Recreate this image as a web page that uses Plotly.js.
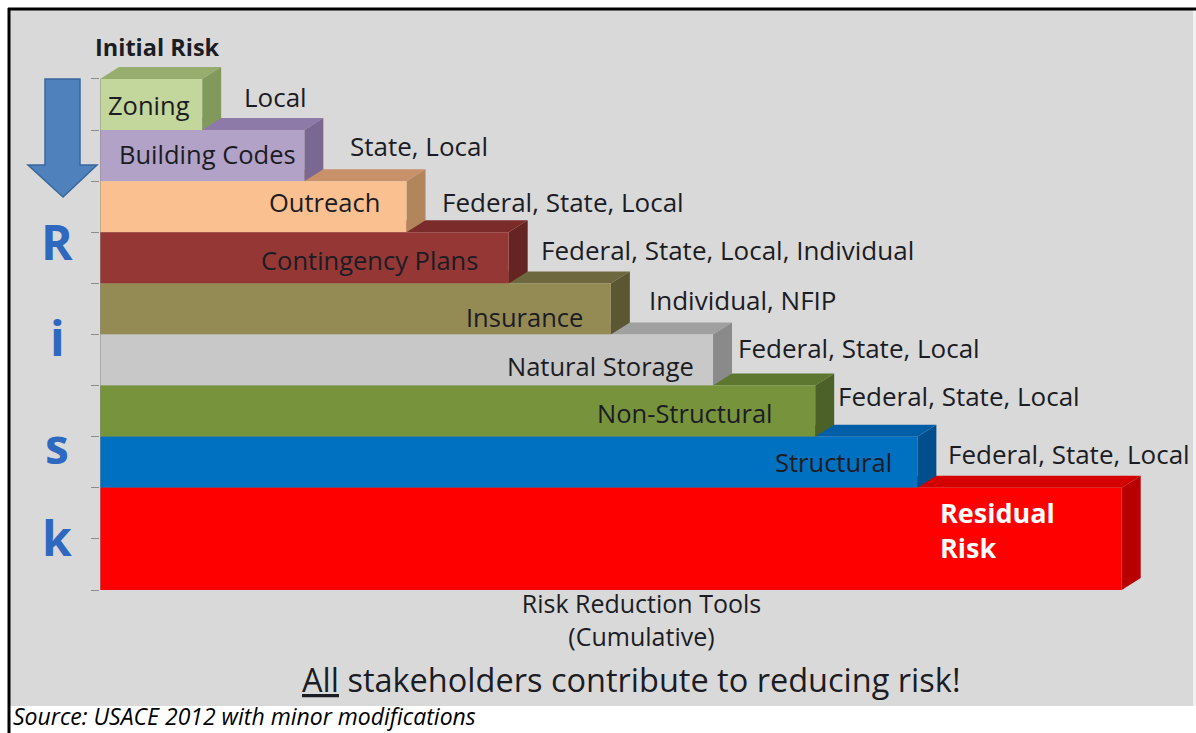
<!DOCTYPE html>
<html><head><meta charset="utf-8">
<script src="https://cdn.plot.ly/plotly-3.0.1.min.js"></script>
<style>html,body{margin:0;padding:0;background:#fff;} #chart{width:1196px;height:733px;}</style>
</head><body><div id="chart"></div>
<script>
// ---------- data ----------
const tools = ['Zoning','Building Codes','Outreach','Contingency Plans','Insurance','Natural Storage','Non-Structural','Structural','Residual<br>Risk'];
const reach = [1, 2, 3, 4, 5, 6, 7, 8, 10];          // cumulative width of each block
const rowSpan = [1, 1, 1, 1, 1, 1, 1, 1, 2];         // rows occupied by each block
const stakeholders = ['Local','State, Local','Federal, State, Local','Federal, State, Local, Individual','Individual, NFIP','Federal, State, Local','Federal, State, Local','Federal, State, Local',''];
const riskLetters = ['R','i','s','k'];
const rowTicks = [0,1,2,3,4,5,6,7,8,9,10];

// ---------- styles ----------
const frontColors = ['#c3d69b','#b3a2c7','#fac090','#953735','#948a54','#c8c8c8','#77933c','#0070c0','#ff0000'];
const topColors   = ['#97ad6e','#8d7aa8','#c8916a','#7a2b2a','#6e683e','#a0a0a0','#5d7630','#005ea6','#d40000'];
const sideColors  = ['#82995c','#7a6893','#b3855c','#652322','#5c5733','#8a8a8a','#4c6127','#004f8c','#b80000'];
const FONT = '"Open Sans", Lato, sans-serif';
const TXT = '#1c1c24';
// label nudges (pixels)
const inGap   = [10, 6, 25, 29, 26, 17, 40, 23, 65];
const inShift = [0, 1.5, 4.5, -2.5, -8.5, -6, -1.5, 0.5, 8.5];
const outGap  = [21, 25, 14, 11, 17, 4, 2, 10, 0];
const outShift= [8, 9.5, 4.5, 7.5, 8.5, 12, 15.5, 8.5, 0];
const letterY = [241, 338, 445, 537];

// ---------- geometry ----------
const W = 1196, H = 733, L = 100, R = 13, T = 33, B = 143;
const xMax = 10.6, yTop = -0.9, yBottom = 10;
const plotW = W - L - R, plotH = H - T - B;
const pxPerX = plotW / xMax, pxPerY = plotH / (yBottom - yTop);
const depthX = 19 / pxPerX, depthY = 12 / pxPerY;
const px2x = p => (p - L) / plotW;
const px2y = p => (H - B - p) / plotH;

const rowStart = []; let acc = 0;
rowSpan.forEach(s => { rowStart.push(acc); acc += s; });
const rowMid = rowStart.map((s, i) => s + rowSpan[i] / 2);

// ---------- front faces (bars) ----------
const bars = {
  type: 'bar', orientation: 'h',
  x: reach, y: rowMid, width: rowSpan, base: 0,
  marker: { color: frontColors, line: { width: 0 } },
  hoverinfo: 'skip', showlegend: false
};

// ---------- shapes ----------
const shapes = [];
const paperRect = (x0, y0, x1, y1, fill) => ({type:'rect', xref:'paper', yref:'paper', x0:px2x(x0), x1:px2x(x1), y0:px2y(y0), y1:px2y(y1), fillcolor:fill, line:{width:0}, layer:'below'});
shapes.push(paperRect(0, 0, W, 8, '#ffffff'));
shapes.push(paperRect(0, 0, 8, H, '#ffffff'));
shapes.push(paperRect(10, 706, W, H, '#ffffff'));
shapes.push(paperRect(1193, 8, W, 706, '#f2f2f2'));
shapes.push({type:'line', xref:'paper', yref:'paper', x0:px2x(8), x1:px2x(W), y0:px2y(9), y1:px2y(9), line:{color:'#000', width:3}, layer:'below'});
shapes.push({type:'line', xref:'paper', yref:'paper', x0:px2x(9), x1:px2x(9), y0:px2y(8), y1:px2y(H), line:{color:'#000', width:3}, layer:'below'});

// 3D faces: draw bottom block first so upper blocks sit on top
for (let i = tools.length - 1; i >= 0; i--) {
  const y0 = rowStart[i], y1 = rowStart[i] + rowSpan[i], x1 = reach[i];
  shapes.push({type:'path', xref:'x', yref:'y', layer:'below',
    path:`M0,${y0} L${x1},${y0} L${x1+depthX},${y0-depthY} L${depthX},${y0-depthY} Z`,
    fillcolor: topColors[i], line:{width:0}});
  shapes.push({type:'path', xref:'x', yref:'y', layer:'below',
    path:`M${x1},${y0} L${x1+depthX},${y0-depthY} L${x1+depthX},${y1-depthY} L${x1},${y1} Z`,
    fillcolor: sideColors[i], line:{width:0}});
}
// axis line
shapes.push({type:'line', xref:'x', yref:'y', x0:0, x1:0, y0:rowTicks[0], y1:rowTicks[rowTicks.length-1], line:{color:'#8c8c8c', width:1}, layer:'above'});

// arrow
const arrowPts = [[45,79],[80,79],[80,165],[97,165],[63,197],[28,165],[45,165]];
shapes.push({type:'path', xref:'paper', yref:'paper', layer:'above',
  path: 'M' + arrowPts.map(p => px2x(p[0]) + ',' + px2y(p[1])).join(' L') + ' Z',
  fillcolor:'#4f81bd', line:{color:'#3a659a', width:1.5}});

// ---------- annotations ----------
const ann = [];
tools.forEach((t, i) => {
  const last = i === tools.length - 1;
  ann.push({xref:'x', yref:'y', x:reach[i], y:rowMid[i], xanchor:'right', yanchor:'middle',
    xshift:-inGap[i], yshift:inShift[i], text: last ? '<b>'+t+'</b>' : t, align:'left', showarrow:false,
    font:{family:FONT, size: last ? 27 : 25.5, color: last ? '#ffffff' : TXT}});
  if (stakeholders[i]) {
    ann.push({xref:'x', yref:'y', x:reach[i] + depthX, y:rowMid[i], xanchor:'left', yanchor:'middle',
      xshift:outGap[i], yshift:outShift[i], text:stakeholders[i], showarrow:false,
      font:{family:FONT, size:26, color:TXT}});
  }
});
riskLetters.forEach((c, i) => {
  ann.push({xref:'paper', yref:'paper', x:px2x(57), y:px2y(letterY[i]), xanchor:'center', yanchor:'middle',
    text:'<b>'+c+'</b>', showarrow:false, font:{family:FONT, size:48, color:'#2f68bf'}});
});
ann.push({xref:'paper', yref:'paper', x:px2x(157), y:px2y(47), xanchor:'center', yanchor:'middle',
  text:'<b>Initial Risk</b>', showarrow:false, font:{family:FONT, size:23.5, color:TXT}});
ann.push({xref:'paper', yref:'paper', x:px2x(631), y:px2y(679), xanchor:'center', yanchor:'middle', borderpad:0,
  text:'<u>All</u> stakeholders contribute to reducing risk!', showarrow:false, font:{family:FONT, size:32.5, color:TXT}});
ann.push({xref:'paper', yref:'paper', x:px2x(12), y:px2y(716), xanchor:'left', yanchor:'middle', borderpad:0,
  text:'<i>Source: USACE 2012 with minor modifications</i>', showarrow:false, font:{family:FONT, size:23, color:'#000'}});

const layout = {
  width: W, height: H,
  margin: {l:L, r:R, t:T, b:B, pad:0},
  paper_bgcolor:'#d9d9d9', plot_bgcolor:'rgba(0,0,0,0)',
  showlegend:false,
  xaxis: {range:[0, xMax], showgrid:false, zeroline:false, showticklabels:false, ticks:'', showline:false, fixedrange:true,
    title:{text:'Risk Reduction Tools<br>(Cumulative)', font:{family:FONT, size:25, color:TXT}, standoff:5}, automargin:false},
  yaxis: {range:[yBottom, yTop], showgrid:false, zeroline:false, showticklabels:false, showline:false,
    tickmode:'array', tickvals:rowTicks, ticks:'outside', ticklen:8, tickcolor:'#8c8c8c', tickwidth:1, fixedrange:true, automargin:false},
  shapes: shapes,
  annotations: ann,
  font:{family:FONT}
};
Plotly.newPlot('chart', [bars], layout, {displayModeBar:false, staticPlot:true});
</script></body></html>
